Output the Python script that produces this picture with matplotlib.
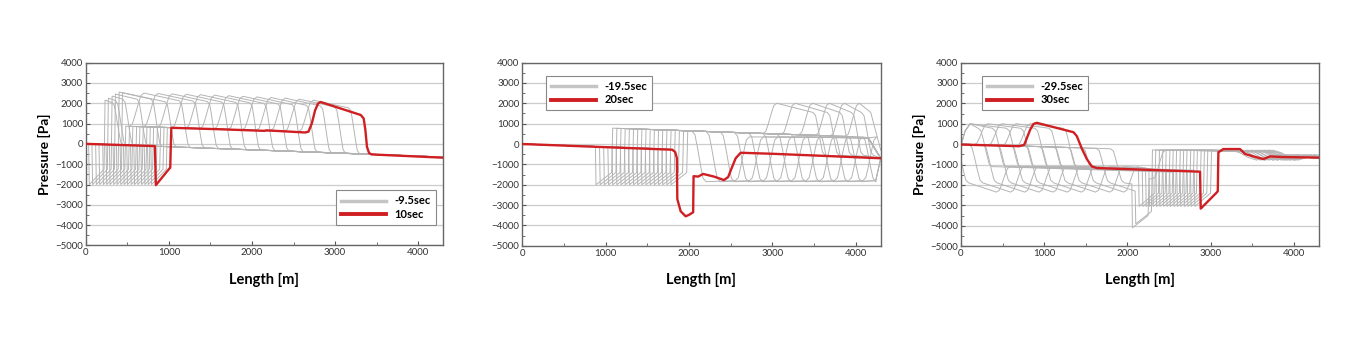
import matplotlib.pyplot as plt
from matplotlib.lines import Line2D
from matplotlib.ticker import MultipleLocator

plt.rcParams['font.family'] = ['Lato', 'DejaVu Sans']

RED = '#d01f23'
GRAY = '#b4b4b4'

# rounded edge of a pressure wave: offset [m] and share of the jump
S_DX = [-60, -35, -15, 0, 15, 35, 60]
S_FR = [0.0, 0.07, 0.3, 0.5, 0.7, 0.93, 1.0]

# ---------------- 10 sec ----------------
p1_red_x = [0, 830, 842, 1008, 1015, 1028, 1600, 2150, 2170, 2640, 2680, 2720, 2760, 2795, 2825,
            3310, 3345, 3365, 3385, 3410, 3440, 4300]
p1_red_y = [0, -110, -2030, -1200, -1180, 790, 720, 640, 665, 560, 600, 1000, 1650, 1980, 2060,
            1420, 1250, 700, -150, -450, -520, -680]
# gray snapshots 0.5 .. 9.5 sec
p1_tail = [40, 80, 125, 165, 210, 250, 290, 335, 375, 420, 460, 500, 545, 585, 625, 670, 710, 750, 790]
p1_front = [170, 340, 510, 680, 850, 1020, 1190, 1360, 1530, 1700, 1870, 2040, 2210, 2380, 2550,
            2720, 2890, 3060, 3230]
p1_peak = [2150, 2250, 2350, 2450, 2550, 2520, 2500, 2480, 2460, 2440, 2420, 2400, 2370, 2340,
           2310, 2280, 2250, 2200, 2150]

# ---------------- 20 sec ----------------
p2_red_x = [0, 1800, 1835, 1855, 1860, 1900, 1960, 2000, 2050, 2055, 2110, 2170, 2300, 2420,
            2470, 2520, 2560, 2620, 3000, 3600, 4300]
p2_red_y = [0, -280, -400, -700, -2700, -3300, -3550, -3480, -3350, -1580, -1600, -1470, -1600,
            -1770, -1620, -1100, -700, -430, -480, -580, -700]
# gray snapshots 10.5 .. 19.5 sec
p2_tail = [885, 935, 985, 1035, 1085, 1135, 1185, 1235, 1285, 1335, 1385, 1435, 1485, 1535, 1585,
           1635, 1685, 1735, 1785]
p2_peak_pos = [2970, 3190, 3400, 3600, 3780, 3960]      # first six snapshots
p2_front = [3560, 3730, 3880, 4020, 4140, 4240]
p2_dip = [4160, 3990, 3820, 3650, 3480, 3310, 3140, 2970, 2800, 2630, 2460, 2290, 2120]

# ---------------- 30 sec ----------------
p3_red_x = [0, 700, 760, 830, 872, 912, 1352, 1392, 1450, 1512, 1572, 1632, 2872, 2880, 3072,
            3085, 3092, 3152, 3352, 3412, 3512, 3632, 3712, 3850, 4300]
p3_red_y = [-20, -100, -30, 700, 995, 1045, 585, 390, -200, -730, -1090, -1170, -1350, -3160, -2370,
            -2300, -400, -240, -240, -480, -600, -730, -600, -630, -660]
# gray snapshots 20.5 .. 29.5 sec
p3_tail = [2060, 2100, 2140, 2185, 2225, 2265, 2310, 2350, 2390, 2435, 2475, 2515, 2560, 2600, 2640,
           2685, 2725, 2765, 2810]
p3_dip = [1880, 1710, 1540, 1370, 1200, 1030, 860, 690, 520, 350, 180, 10]
p3_edge = [290, 460, 630, 800, 970, 1140, 1310]
p3_ripple = [3350, 3800, 3450, 3700, 3550, 3850, 3400, 3750, 3600, 3500, 3820, 3650, 3720, 3450,
             3800, 3550, 3680, 3760, 3600]


def s_step(x0, y0, y1, w=1.0):
    return [(x0 + dx * w, y0 + (y1 - y0) * f) for dx, f in zip(S_DX, S_FR)]


def snap_10(tail, front, peak):
    nose = tail + 190
    front = max(front, nose + 150)
    rise = front - 580
    pts = [(0, 0), (tail - 8, -0.12 * tail), (tail, -2000), (nose - 12, -1250)]
    if rise > nose + 100:
        pts += [(nose, 930 - 0.125 * nose)]
        pts += s_step(rise, 930 - 0.125 * rise, peak, 1.5)
        start = rise + 90
    else:
        pts += [(nose, peak)]
        start = nose
    top_end = peak - 450 * (front - start) / 580
    pts += s_step(front, top_end, -0.15 * front, 1.1)
    pts += [(4300, -650)]
    return pts


def plat2(x):
    return 930 - 0.14 * x


def snap_20(i):
    tail = p2_tail[i]
    nose = tail + 200
    pts = [(0, 0), (tail - 8, -0.14 * tail), (tail, -2000), (nose - 12, -1400), (nose, plat2(nose))]
    if i < len(p2_front):
        c, d = p2_peak_pos[i], p2_front[i]
        pts += s_step(c, plat2(c), 2000, 1.4)
        if d < 4200:
            pts += s_step(d, 1550, -550, 1.2) + [(4300, -700)]
        else:
            pts += [(d - 60, 1550), (4300, -300)]
    else:
        L = p2_dip[i - len(p2_front)]
        R = L + 520
        pts += s_step(L, plat2(L), -1850, 1.4)
        if R < 4200:
            pts += s_step(R, -1800, 350, 1.4) + [(4150, 300), (4300, -700)]
        else:
            pts += [(4240, -1800), (4300, -700)]
    return pts


def snap_30(i):
    tail = p3_tail[i]
    nose = tail + 200
    if i < len(p3_dip):
        L = p3_dip[i]
        R = L + 500
        pts = [(0, 0)] if L > 80 else []
        pts += s_step(L, -0.12 * L, -1900, 1.4)
        if R < tail - 80:
            pts += s_step(R, -2350, -1100, 1.4)
            pts += [(tail - 8, -1100 - 0.12 * (tail - R)), (tail, -3050), (nose - 12, -2400), (nose, -280)]
        elif R < nose:
            pts += [(tail - 8, -2300), (tail, -3900), (nose - 12, -3300), (nose, -280)]
        else:
            pts += [(tail - 8, -1950), (tail, -4100), (nose - 12, -3500), (nose, -1700)]
            pts += s_step(R, -1700, -300, 1.3)
    else:
        E = p3_edge[i - len(p3_dip)]
        S = E - 560
        if S > 70:
            pts = [(0, 0)] + s_step(S, -0.1 * S, 1000, 1.4)
        else:
            pts = [(0, -50), (50, 650), (110, 1000)]
        pts += s_step(E, 780, -1100, 1.4)
        pts += [(tail - 8, -1100 - 0.12 * (tail - E)), (tail, -3050), (nose - 12, -2400), (nose, -280)]
    w = p3_ripple[i]
    x0 = pts[-1][0] + 100
    pts += [(x0, -300), (w - 200, -330), (w - 100, -300), (w, -420), (w + 100, -650),
            (w + 200, -780), (w + 320, -640), (w + 450, -520), (4300, -700)]
    return pts


fig = plt.figure(figsize=(13.6, 3.4), dpi=100)
boxes = [[0.0632, 0.278, 0.2625, 0.538],
         [0.3840, 0.277, 0.2636, 0.539],
         [0.7066, 0.276, 0.2632, 0.540]]

grays = [[snap_10(t, f, p) for t, f, p in zip(p1_tail, p1_front, p1_peak)],
         [snap_20(i) for i in range(len(p2_tail))],
         [snap_30(i) for i in range(len(p3_tail))]]
reds = [(p1_red_x, p1_red_y), (p2_red_x, p2_red_y), (p3_red_x, p3_red_y)]
labels = [('-9.5sec', '10sec'), ('-19.5sec', '20sec'), ('-29.5sec', '30sec')]
leg_pos = [(0.686, 0.331), (0.051, 0.956), (0.044, 0.956)]

for n in range(3):
    ax = fig.add_axes(boxes[n])
    for pts in grays[n]:
        ax.plot([p[0] for p in pts], [p[1] for p in pts], color=GRAY, lw=0.7)
    ax.plot(reds[n][0], reds[n][1], color=RED, lw=1.7, zorder=5)

    ax.set_xlim(0, 4300)
    ax.set_ylim(-5000, 4000)
    ax.xaxis.set_major_locator(MultipleLocator(1000))
    ax.xaxis.set_minor_locator(MultipleLocator(500))
    ax.yaxis.set_major_locator(MultipleLocator(1000))
    ax.yaxis.set_minor_locator(MultipleLocator(500))
    ax.tick_params(which='both', direction='in', labelsize=7, colors='#555555', labelcolor='#333333')
    ax.tick_params(which='major', length=3, pad=2)
    ax.tick_params(which='minor', length=2)
    ax.grid(axis='y', color='#cccccc', lw=0.9)
    ax.set_axisbelow(True)
    for s in ax.spines.values():
        s.set_color('#666666')
        s.set_linewidth(1.0)

    ax.set_xlabel('Length [m]', fontsize=10.5, fontweight='bold', labelpad=11)
    if n != 1:
        ax.set_ylabel('Pressure [Pa]', fontsize=10, fontweight='bold', labelpad=3)

    handles = [Line2D([], [], color='#c4c4c4', lw=2.5), Line2D([], [], color=RED, lw=2.8)]
    leg = ax.legend(handles, labels[n], loc='upper left', bbox_to_anchor=leg_pos[n],
                    fancybox=False, framealpha=1, edgecolor='#888888', handlelength=4.0,
                    handletextpad=0.8, borderpad=0.45, labelspacing=0.2,
                    prop={'size': 8, 'weight': 'bold'})
    leg.get_frame().set_linewidth(0.8)

fig.savefig('out.png', dpi=100)
